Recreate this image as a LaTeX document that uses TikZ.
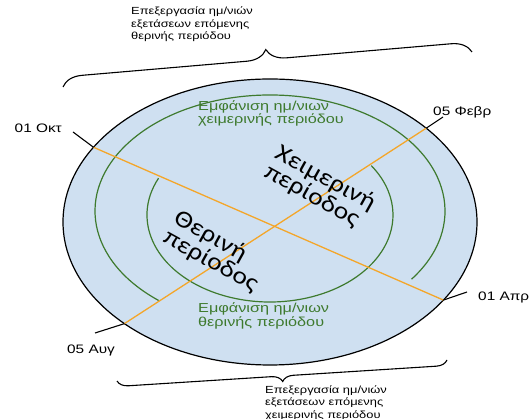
\documentclass[tikz,border=0pt]{standalone}
\usepackage{fontspec}
\setmainfont[FakeStretch=1.25]{Liberation Sans}
\newfontfamily\bigfont[FakeStretch=1.15]{Carlito}
\usetikzlibrary{decorations.pathreplacing,calc}
\definecolor{fillblue}{RGB}{207,224,241}
\definecolor{lineorange}{RGB}{244,166,42}
\definecolor{arcgreen}{RGB}{62,122,46}
\definecolor{textgreen}{RGB}{62,122,46}
\tikzset{
  datelabel/.style={font=\fontsize{12.3}{14}\selectfont, inner sep=0pt},
  tick/.style={black, line width=1.1pt},
  season/.style={draw=lineorange, line width=1.3pt},
  greenarc/.style={draw=arcgreen, line width=1.2pt},
  greentext/.style={text=textgreen, font=\fontsize{13}{13.5}\selectfont, align=left, inner sep=0pt},
  notetext/.style={font=\fontsize{10.3}{12.3}\selectfont, align=left, inner sep=0pt},
  bigtext/.style={font=\bigfont\fontsize{24}{21.5}\selectfont, align=left, inner sep=0pt, rotate=-29},
  bracedeco/.style={decorate, line width=1.1pt}
}
\begin{document}
\begin{tikzpicture}[x=1pt,y=1pt]
\useasboundingbox (0,0) rectangle (530,419);
\coordinate (O) at (270,197);
% outer ellipse
\draw[fill=fillblue, line width=1.2pt] (O) ellipse [x radius=207, y radius=143];
% green arcs
\draw[greenarc] ($(270,208)+(-36:175pt and 116pt)$) arc[start angle=-36, end angle=230.5, x radius=175, y radius=116];
\draw[greenarc] ($(270,204)+(155:123pt and 87pt)$) arc[start angle=155, end angle=394.6, x radius=123, y radius=87];
% points on ellipse
\coordinate (okt) at ($(O)+(148.5:207pt and 143pt)$);
\coordinate (apr) at ($(O)+(-33.1:207pt and 143pt)$);
\coordinate (avg) at ($(O)+(225.3:207pt and 143pt)$);
\coordinate (feb) at ($(O)+(41:207pt and 143pt)$);
\draw[season] (okt) -- (apr);
\draw[season] (avg) -- (feb);
% tick ends
\coordinate (oktT) at (73,287);
\coordinate (febT) at (443,302);
\coordinate (aprT) at (467,127);
\coordinate (avgT) at (95,86);
\draw[tick] (okt) -- (oktT);
\draw[tick] (feb) -- (febT);
\draw[tick] (apr) -- (aprT);
\draw[tick] (avg) -- (avgT);
\node[datelabel, anchor=east] (loct) at (62,291) {01 Οκτ};
\node[datelabel, anchor=west] (lfeb) at (433,307) {05 Φεβρ};
\node[datelabel, anchor=west] (lapr) at (478,122) {01 Απρ};
\node[datelabel, anchor=west] (lavg) at (67,69) {05 Αυγ};
% green texts
\node[greentext, anchor=west] (gtop) at (198,305.5) {Εμφάνιση ημ/νιων\\χειμερινής περιόδου};
\node[greentext, anchor=west] (gbot) at (198,103) {Εμφάνιση ημ/νιων\\θερινής περιόδου};
% season texts
\node[bigtext] (winter) at (320,231) {Χειμερινή\\περίοδος};
\node[bigtext] (summer) at (216,167) {Θερινή\\περίοδος};
% braces
\coordinate (tbL) at (63,332);
\coordinate (tbR) at (472,367);
\draw[bracedeco, decoration={brace, amplitude=20pt}] (tbL) -- (tbR);
\coordinate (bbR) at (447,59);
\coordinate (bbL) at (117,38);
\draw[bracedeco, decoration={brace, amplitude=11pt}] (bbR) -- (bbL);
\node[notetext, anchor=north west] (ttop) at (131,412) {Επεξεργασία ημ/νιών\\εξετάσεων επόμενης\\θερινής περιόδου};
\node[notetext, anchor=north west] (tbot) at (265,33.5) {Επεξεργασία ημ/νιών\\εξετάσεων επόμενης\\χειμερινής περιόδου};
\end{tikzpicture}
\end{document}
